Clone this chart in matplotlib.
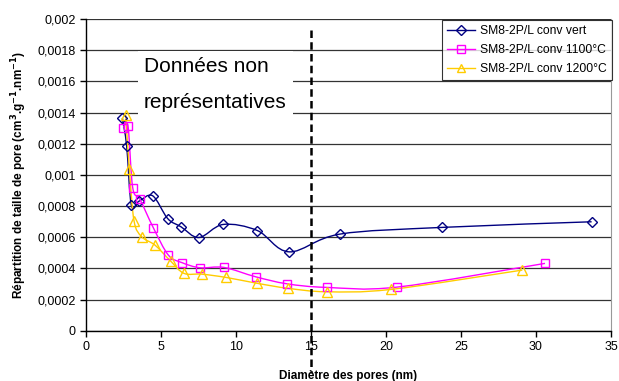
import matplotlib.pyplot as plt
from matplotlib.path import Path
from matplotlib.patches import PathPatch
from matplotlib.lines import Line2D
from matplotlib.ticker import FuncFormatter
import numpy as np

plt.rcParams['font.family'] = ['Liberation Sans', 'DejaVu Sans']

# pore diameter (nm) / pore size distribution
x_vert = [2.42, 2.71, 3.02, 3.53, 4.44, 5.44, 6.33, 7.53, 9.15, 11.42, 13.55, 16.93, 23.75, 33.71]
y_vert = [0.001365, 0.001184, 0.000806, 0.000831, 0.000866, 0.00072, 0.000667, 0.000598,
          0.000682, 0.000643, 0.000506, 0.00062, 0.000663, 0.000699]

x_1100 = [2.49, 2.80, 3.11, 3.60, 4.49, 5.49, 6.42, 7.60, 9.20, 11.31, 13.40, 16.04, 20.76, 30.60]
y_1100 = [0.001304, 0.001312, 0.000919, 0.000842, 0.00066, 0.000485, 0.000436, 0.000404,
          0.000406, 0.000346, 0.000301, 0.000278, 0.00028, 0.000432]

x_1200 = [2.64, 2.89, 3.20, 3.71, 4.60, 5.64, 6.53, 7.71, 9.33, 11.42, 13.47, 16.04, 20.33, 29.09]
y_1200 = [0.001387, 0.001035, 0.000705, 0.000603, 0.000549, 0.000447, 0.000368, 0.000363,
          0.000342, 0.000304, 0.000272, 0.00025, 0.000265, 0.000389]

labels = ['SM8-2P/L conv vert', 'SM8-2P/L conv 1100°C', 'SM8-2P/L conv 1200°C']
colors = ['#000080', '#FF00FF', '#FFCC00']
markers = ['D', 's', '^']
marker_sizes = [5.5, 6, 6.5]
limit_nm = 15


def smooth_path(xs, ys):
    # Excel-like smoothed line: Catmull-Rom converted to cubic Bezier segments
    pts = np.column_stack([xs, ys])
    n = len(pts)
    verts = [pts[0]]
    codes = [Path.MOVETO]
    for i in range(n - 1):
        p0 = pts[max(i - 1, 0)]
        p1 = pts[i]
        p2 = pts[i + 1]
        p3 = pts[min(i + 2, n - 1)]
        c1 = p1 + (p2 - p0) / 6.0
        c2 = p2 - (p3 - p1) / 6.0
        verts += [c1, c2, p2]
        codes += [Path.CURVE4] * 3
    return Path(verts, codes)


fig = plt.figure(figsize=(6.19, 3.81), dpi=100)
ax = fig.add_axes([0.139, 0.132, 0.848, 0.818])

series = [(x_vert, y_vert), (x_1100, y_1100), (x_1200, y_1200)]
handles = []
for (xs, ys), c, m, ms in zip(series, colors, markers, marker_sizes):
    ax.add_patch(PathPatch(smooth_path(xs, ys), fill=False, edgecolor=c, lw=1, zorder=3))
    ax.plot(xs, ys, ls='none', marker=m, ms=ms, mfc='none', mec=c, mew=1, zorder=4)
    handles.append(Line2D([], [], color=c, lw=1, marker=m, ms=ms - 0.5,
                          mfc='none', mec=c, mew=1))

ax.set_xlim(0, 35)
ax.set_ylim(0, 0.002)
ax.set_xticks(np.arange(0, 36, 5))
ax.set_yticks(np.arange(0, 0.00201, 0.0002))
ax.yaxis.set_major_formatter(FuncFormatter(
    lambda v, p: '0' if abs(v) < 1e-12 else ('%g' % round(v, 4)).replace('.', ',')))
ax.tick_params(direction='out', length=4, width=1, labelsize=9, color='black')
ax.grid(axis='y', color='#333333', lw=0.9)
ax.set_axisbelow(True)
ax.spines['top'].set_visible(False)
ax.spines['right'].set_color('#999999')
ax.spines['left'].set_linewidth(1)
ax.spines['bottom'].set_linewidth(1)

# limit of validity
ax.plot([limit_nm, limit_nm], [0.00193, -0.00027], color='black', lw=1.8,
        ls=(0, (3, 1.7)), clip_on=False, zorder=5)

ax.text(3.85, 0.00158, 'Données non\nreprésentatives', fontsize=15, linespacing=2.1,
        va='center', ha='left', zorder=6,
        bbox=dict(facecolor='white', edgecolor='none', pad=4.5))

ax.set_xlabel('Diamètre des pores (nm)', fontsize=8.5, fontweight='bold', labelpad=12)
ax.set_ylabel(r'Répartition de taille de pore (cm$^{\mathbf{3}}$.g$^{\mathbf{-1}}$.nm$^{\mathbf{-1}}$)',
              fontsize=8.5, fontweight='bold', labelpad=6)

leg = fig.legend(handles, labels, loc='upper right', bbox_to_anchor=(612 / 619, 1 - 20 / 381),
                 fontsize=8.7, frameon=True, fancybox=False, edgecolor='black',
                 handlelength=2.3, borderpad=0.45, labelspacing=0.55, handletextpad=0.4,
                 borderaxespad=0)
leg.get_frame().set_linewidth(0.8)

fig.savefig('out.png', dpi=100)
